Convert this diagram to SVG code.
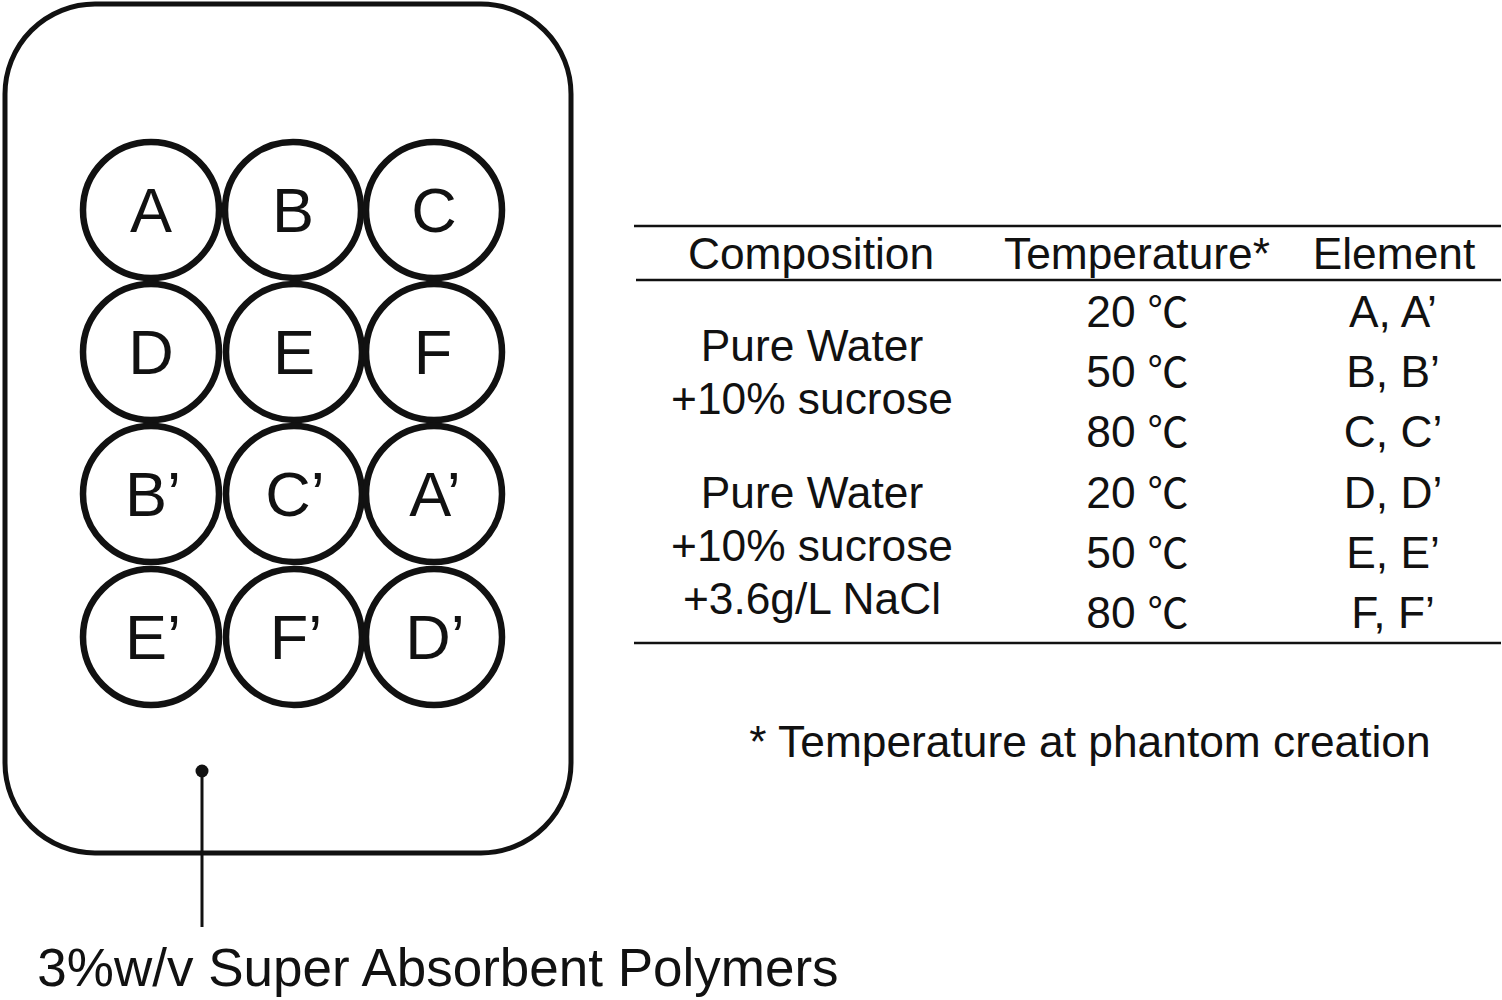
<svg xmlns="http://www.w3.org/2000/svg" width="1502" height="1000" viewBox="0 0 1502 1000">
<style>
text{font-family:"Liberation Sans",Arial,sans-serif;fill:#111;text-anchor:middle}
.c{fill:#fff;stroke:#111;stroke-width:6.5}
.l{font-size:63px}
.t{font-size:44.3px}
.d{font-family:"Noto Sans CJK SC","Liberation Serif",serif;font-size:41px}
.r{stroke:#111;stroke-width:2.5;fill:none}
</style>
<rect width="1502" height="1000" fill="#fff"/>
<g id="phantom"><rect x="5" y="4" width="566" height="849" rx="90" ry="90" fill="#fff" stroke="#111" stroke-width="5"/></g>
<g id="node-A"><circle class="c" cx="151" cy="210" r="68"/><text class="l" x="151" y="232">A</text></g>
<g id="node-B"><circle class="c" cx="293" cy="210" r="68"/><text class="l" x="293" y="232">B</text></g>
<g id="node-C"><circle class="c" cx="434" cy="210" r="68"/><text class="l" x="434" y="232">C</text></g>
<g id="node-D"><circle class="c" cx="151" cy="352" r="68"/><text class="l" x="151" y="374">D</text></g>
<g id="node-E"><circle class="c" cx="294" cy="352" r="68"/><text class="l" x="294" y="374">E</text></g>
<g id="node-F"><circle class="c" cx="434" cy="352" r="68"/><text class="l" x="433" y="374">F</text></g>
<g id="node-Bp"><circle class="c" cx="151" cy="494" r="68"/><text class="l" x="153" y="516">B’</text></g>
<g id="node-Cp"><circle class="c" cx="294" cy="494" r="68"/><text class="l" x="295" y="516">C’</text></g>
<g id="node-Ap"><circle class="c" cx="434" cy="494" r="68"/><text class="l" x="435" y="516">A’</text></g>
<g id="node-Ep"><circle class="c" cx="151" cy="637" r="68"/><text class="l" x="153" y="659">E’</text></g>
<g id="node-Fp"><circle class="c" cx="294" cy="637" r="68"/><text class="l" x="296" y="659">F’</text></g>
<g id="node-Dp"><circle class="c" cx="434" cy="637" r="68"/><text class="l" x="435" y="659">D’</text></g>
<g id="connectors"><circle cx="202" cy="771" r="6.5" fill="#111"/><line x1="202" y1="771" x2="202" y2="927" stroke="#111" stroke-width="3"/></g>
<g id="label-polymer"><text x="438" y="986" font-size="53">3%w/v Super Absorbent Polymers</text></g>
<g id="table">
<line class="r" x1="634" y1="226" x2="1501" y2="226"/><line class="r" x1="636" y1="280" x2="1501" y2="280"/><line class="r" x1="634" y1="643" x2="1501" y2="643"/>
<text class="t" x="811" y="269">Composition</text><text class="t" x="1137" y="269">Temperature*</text><text class="t" x="1394" y="269">Element</text>
<text class="t" x="812" y="361">Pure Water</text><text class="t" x="812" y="414">+10% sucrose</text>
<text class="t" x="812" y="508">Pure Water</text><text class="t" x="812" y="561">+10% sucrose</text><text class="t" x="812" y="614">+3.6g/L NaCl</text>
<text class="t" x="1111" y="327">20</text><text class="d" x="1168" y="327">℃</text><text class="t" x="1393" y="327">A, A’</text>
<text class="t" x="1111" y="387">50</text><text class="d" x="1168" y="387">℃</text><text class="t" x="1393" y="387">B, B’</text>
<text class="t" x="1111" y="447">80</text><text class="d" x="1168" y="447">℃</text><text class="t" x="1393" y="447">C, C’</text>
<text class="t" x="1111" y="508">20</text><text class="d" x="1168" y="508">℃</text><text class="t" x="1393" y="508">D, D’</text>
<text class="t" x="1111" y="568">50</text><text class="d" x="1168" y="568">℃</text><text class="t" x="1393" y="568">E, E’</text>
<text class="t" x="1111" y="628">80</text><text class="d" x="1168" y="628">℃</text><text class="t" x="1393" y="628">F, F’</text>
<text class="t" x="1090" y="757">* Temperature at phantom creation</text>
</g>
</svg>
